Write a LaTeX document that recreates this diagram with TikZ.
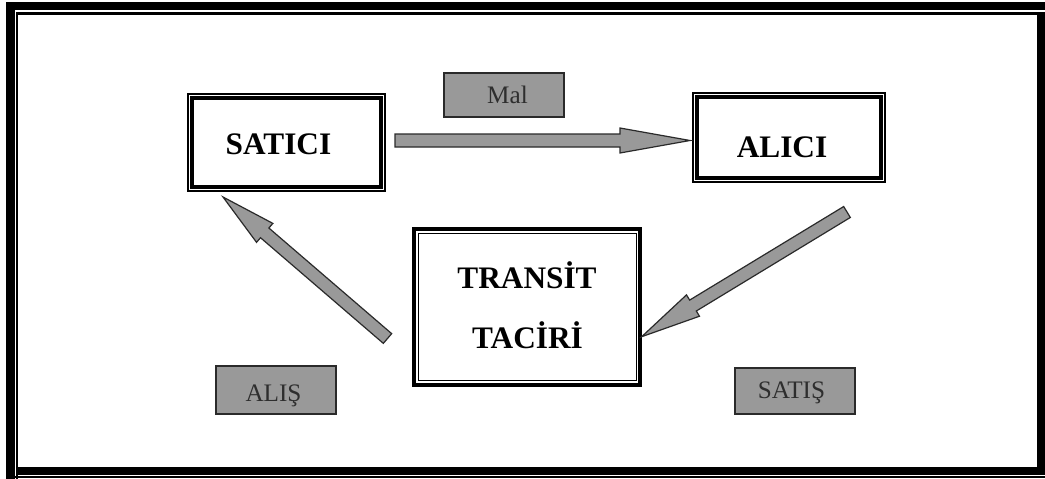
\documentclass[tikz,border=0pt]{standalone}
\usepackage{fontspec}
\setmainfont{Liberation Serif}
\usetikzlibrary{calc}
\definecolor{arrowgray}{HTML}{999999}
\definecolor{edgegray}{HTML}{2A2A2A}
\definecolor{labelgray}{HTML}{2E2E2E}

% block arrow: #1 tail, #2 tip, #3 shaft half width, #4 head half width, #5 head length
\newcommand{\blockarrow}[5]{%
  \coordinate (#2-base) at ($(#2)!#5!(#1)$);
  \filldraw[fill=arrowgray, draw=edgegray, line width=1.2pt, line join=miter]
    ($(#1)!#3!90:(#2)$) -- ($(#2-base)!#3!90:(#2)$) -- ($(#2-base)!#4!90:(#2)$)
    -- (#2) -- ($(#2-base)!#4!-90:(#2)$) -- ($(#2-base)!#3!-90:(#2)$)
    -- ($(#1)!#3!-90:(#2)$) -- cycle;}

\begin{document}
\begin{tikzpicture}[x=1pt, y=-1pt,
  thinthick/.style={draw, line width=1.8pt, inner sep=0pt,
    path picture={\draw[line width=4pt]
      ([shift={(4.1,4.1)}]path picture bounding box.north west) rectangle
      ([shift={(-4.1,-4.1)}]path picture bounding box.south east);}},
  thickthin/.style={draw, line width=4pt, inner sep=0pt,
    path picture={\draw[line width=1.3pt]
      ([shift={(3.95,3.95)}]path picture bounding box.north west) rectangle
      ([shift={(-3.95,-3.95)}]path picture bounding box.south east);}},
  bigtext/.style={font=\bfseries\fontsize{31.3}{37}\selectfont, inner sep=0pt, anchor=base},
  tag/.style={fill=arrowgray, draw=edgegray, line width=1.8pt, inner sep=0pt,
    minimum width=120pt},
  tagtext/.style={font=\fontsize{25.2}{30}\selectfont, text=labelgray, inner sep=0pt, anchor=base}]

\useasboundingbox (0,0) rectangle (1045,479);
\fill[white] (0,0) rectangle (1045,479);

% page frame
\fill[black] (6,2) rectangle (1045,10);
\fill[black] (6,2) rectangle (15,479);
\fill[black] (16,12) rectangle (1045,14.5);
\fill[black] (16,12) rectangle (17.8,479);
\fill[black] (1037,12) rectangle (1045,475);
\fill[black] (17,467) rectangle (1045,475);
\fill[black] (15,476) rectangle (1045,478);

% parties
\node[thinthick, minimum width=197.2pt, minimum height=97.2pt] (satici) at (286.5,142.5) {};
\node[thinthick, minimum width=192.5pt, minimum height=89.2pt] (alici) at (788.85,137.2) {};
\node[thickthin, minimum width=226pt, minimum height=155.4pt] (transit) at (527.3,307) {};

\node[bigtext] (saticiT) at (278.5,154) {SATICI};
\node[bigtext] (aliciT) at (782,157) {ALICI};
\node[bigtext] (transitT1) at (527,288) {TRANSİT};
\node[bigtext] (transitT2) at (527.5,348) {TACİRİ};

% flow labels
\node[tag, minimum height=44.2pt] (mal) at (504,95) {};
\node[tag, minimum height=48.2pt] (alis) at (276,390) {};
\node[tag, minimum height=46.2pt] (satis) at (795,391) {};
\node[tagtext] (malT) at (507.5,103) {Mal};
\node[tagtext] (alisT) at (273.5,401) {ALIŞ};
\node[tagtext] (satisT) at (791.5,398) {SATIŞ};

% flows
\coordinate (malTail) at (395,140.5);
\coordinate (malTip) at (690,140.5);
\blockarrow{malTail}{malTip}{6.5pt}{12.5pt}{70pt}

\coordinate (alisTail) at (387.5,338.5);
\coordinate (alisTip) at (223,197);
\blockarrow{alisTail}{alisTip}{6.4pt}{12.5pt}{55pt}

\coordinate (satisTail) at (847,212);
\coordinate (satisTip) at (641.7,336.7);
\blockarrow{satisTail}{satisTip}{6.4pt}{12.5pt}{60pt}
\end{tikzpicture}
\end{document}
